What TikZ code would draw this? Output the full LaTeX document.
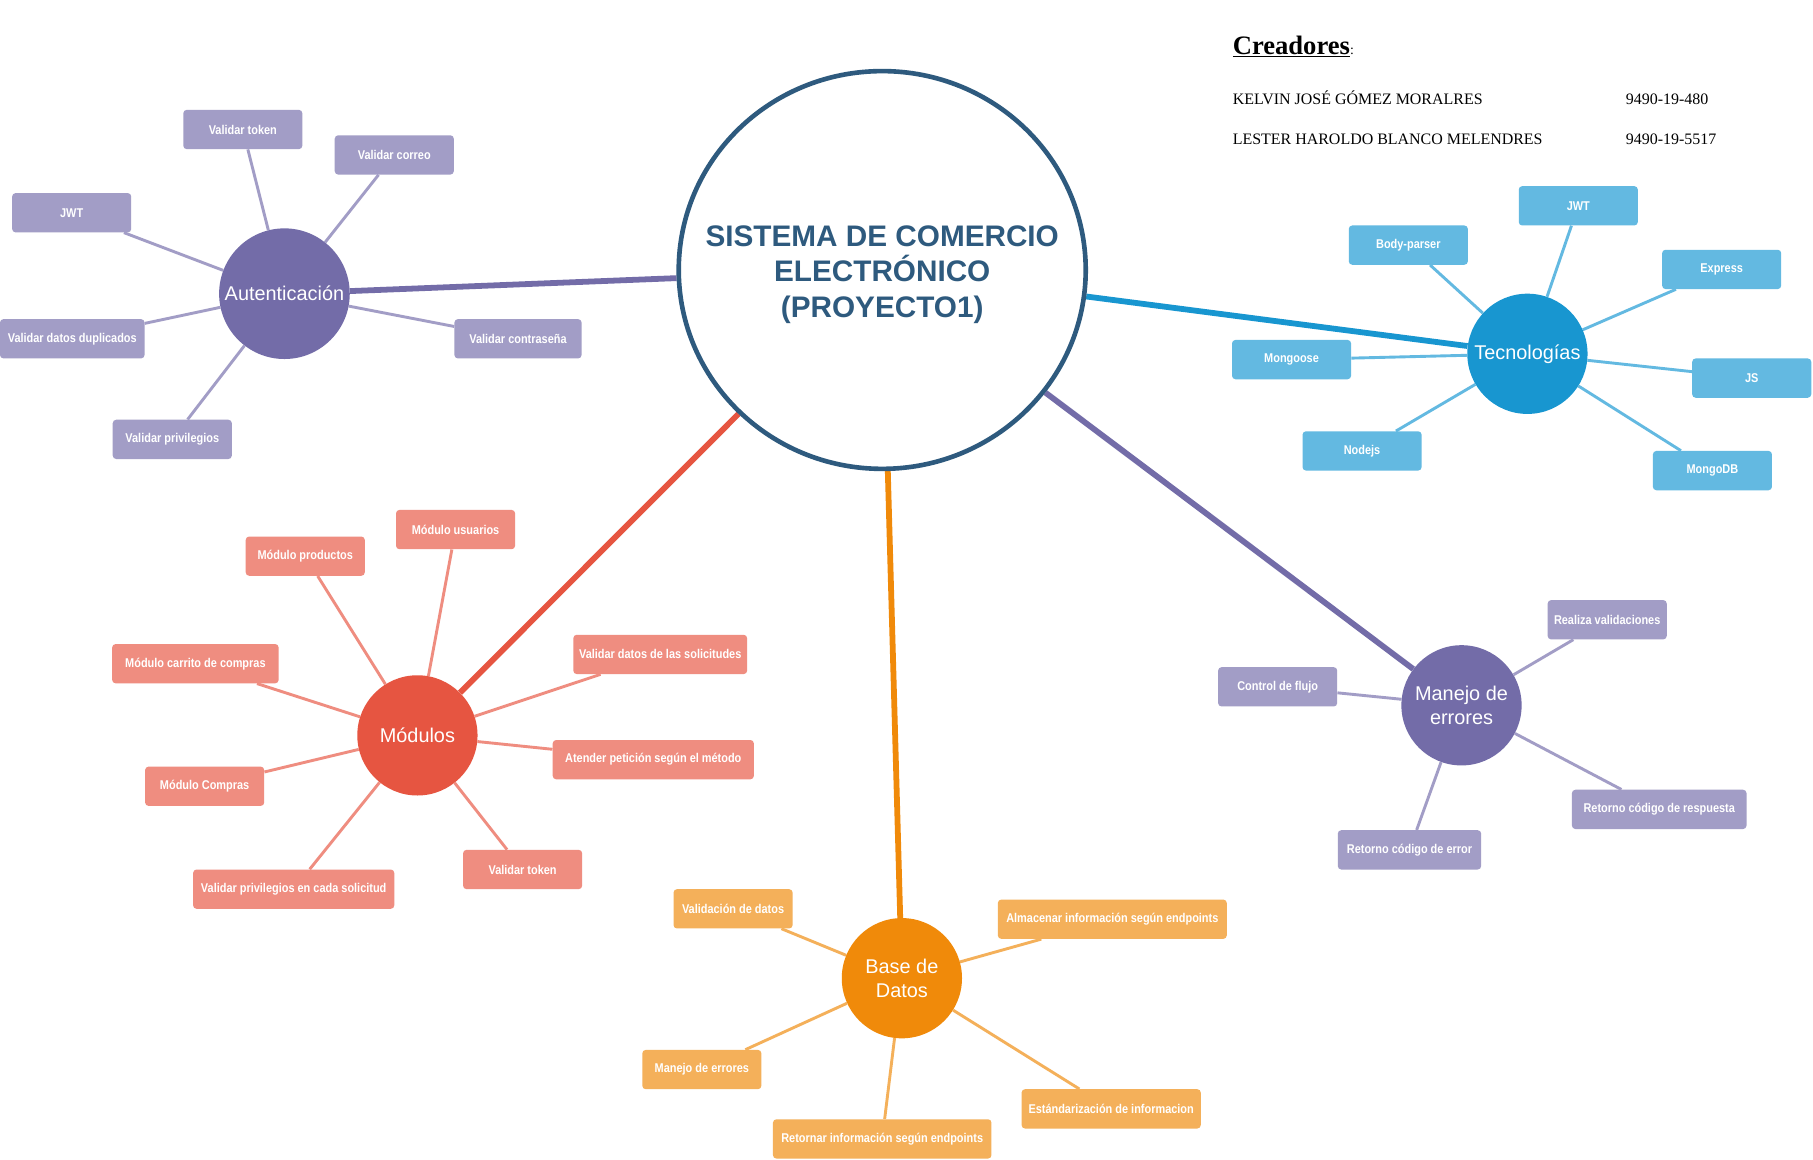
\documentclass[tikz,border=0pt]{standalone}
\usepackage{fontspec}
\setmainfont{Liberation Serif}
\setsansfont{Liberation Sans}
\newfontfamily\cajafont{Liberation Sans}[FakeStretch=0.86]
\usepackage{xcolor}
\usepackage{tikz}
\usetikzlibrary{backgrounds,shapes.geometric}

\definecolor{centrocol}{HTML}{2E5A7E}
\definecolor{lila}{HTML}{736CA8}
\definecolor{lilaclaro}{HTML}{A29DC6}
\definecolor{azul}{HTML}{1896D0}
\definecolor{azulclaro}{HTML}{63B9E1}
\definecolor{rojo}{HTML}{E65541}
\definecolor{rojoclaro}{HTML}{EF8D80}
\definecolor{naranja}{HTML}{F08A0A}
\definecolor{naranjaclaro}{HTML}{F4B05A}

\begin{document}
\begin{tikzpicture}[
  x=1pt, y=-1pt,
  hub/.style={circle, minimum size=104pt, inner sep=0pt, text=white, align=center,
    font=\sffamily\fontsize{17.2}{21}\selectfont},
  hoja/.style={rounded corners=3pt, minimum width=103pt, minimum height=34pt,
    inner xsep=5pt, text=white, font=\cajafont\bfseries\fontsize{11}{13}\selectfont},
  rama/.style={line width=5pt},
  ramita/.style={line width=2.5pt},
  dato/.style={anchor=base west, font=\fontsize{13.8}{16}\selectfont}
]
  \useasboundingbox (0,0) rectangle (1568,1003);

  % centro
  \node[ellipse, draw=centrocol, line width=4pt, minimum width=352pt, minimum height=344pt]
    (centro) at (763,233.5) {};
  \node[align=center, text=centrocol, font=\sffamily\bfseries\fontsize{25.7}{31}\selectfont]
    (titulo) at (763,237.5) {SISTEMA DE COMERCIO\\ELECTRÓNICO\\(PROYECTO1)};

  % Autenticacion
  \node[hub, fill=lila, minimum size=113pt] (auten) at (246,254) {Autenticación};
  \node[hoja, fill=lilaclaro] (auten1) at (210,112) {Validar token};
  \node[hoja, fill=lilaclaro] (auten2) at (341,134) {Validar correo};
  \node[hoja, fill=lilaclaro] (auten3) at (62,184) {JWT};
  \node[hoja, fill=lilaclaro, minimum width=125pt] (auten4) at (62.5,293) {Validar datos duplicados};
  \node[hoja, fill=lilaclaro, minimum width=110pt] (auten5) at (448,293) {Validar contraseña};
  \node[hoja, fill=lilaclaro] (auten6) at (149,380) {Validar privilegios};

  % Tecnologias
  \node[hub, fill=azul] (tecno) at (1321,306) {Tecnologías};
  \node[hoja, fill=azulclaro] (tecno1) at (1365,178) {JWT};
  \node[hoja, fill=azulclaro] (tecno2) at (1218,212) {Body-parser};
  \node[hoja, fill=azulclaro] (tecno3) at (1489,233) {Express};
  \node[hoja, fill=azulclaro] (tecno4) at (1117,311) {Mongoose};
  \node[hoja, fill=azulclaro] (tecno5) at (1515,327) {JS};
  \node[hoja, fill=azulclaro] (tecno6) at (1178,390) {Nodejs};
  \node[hoja, fill=azulclaro] (tecno7) at (1481,407) {MongoDB};

  % Modulos
  \node[hub, fill=rojo] (modul) at (361,636) {Módulos};
  \node[hoja, fill=rojoclaro] (modul1) at (394,458) {Módulo usuarios};
  \node[hoja, fill=rojoclaro] (modul2) at (264,481) {Módulo productos};
  \node[hoja, fill=rojoclaro, minimum width=144pt] (modul3) at (169,574) {Módulo carrito de compras};
  \node[hoja, fill=rojoclaro, minimum width=149pt] (modul4) at (571,566) {Validar datos de las solicitudes};
  \node[hoja, fill=rojoclaro, minimum width=174pt] (modul5) at (565,657) {Atender petición según el método};
  \node[hoja, fill=rojoclaro] (modul6) at (177,680) {Módulo Compras};
  \node[hoja, fill=rojoclaro, minimum width=174pt] (modul7) at (254,769) {Validar privilegios en cada solicitud};
  \node[hoja, fill=rojoclaro] (modul8) at (452,752) {Validar token};

  % Base de datos
  \node[hub, fill=naranja] (based) at (780,846) {Base de\\Datos};
  \node[hoja, fill=naranjaclaro] (based1) at (634,786) {Validación de datos};
  \node[hoja, fill=naranjaclaro, minimum width=198pt] (based2) at (962,795) {Almacenar información según endpoints};
  \node[hoja, fill=naranjaclaro] (based3) at (607,925) {Manejo de errores};
  \node[hoja, fill=naranjaclaro, minimum width=155pt] (based4) at (961,959) {Estándarización de informacion};
  \node[hoja, fill=naranjaclaro, minimum width=189pt] (based5) at (763,985) {Retornar información según endpoints};

  % Manejo de errores
  \node[hub, fill=lila] (manej) at (1264,610) {Manejo de\\errores};
  \node[hoja, fill=lilaclaro] (manej1) at (1390,536) {Realiza validaciones};
  \node[hoja, fill=lilaclaro] (manej2) at (1105,594) {Control de flujo};
  \node[hoja, fill=lilaclaro, minimum width=151pt] (manej3) at (1435,700) {Retorno código de respuesta};
  \node[hoja, fill=lilaclaro, minimum width=124pt] (manej4) at (1219,735) {Retorno código de error};

  % creadores
  \node[dato, inner sep=0pt] (creado) at (1066,47)
    {\fontsize{23}{26}\selectfont\bfseries\underline{Creadores}\fontsize{12}{14}\mdseries:};
  \node[dato, inner sep=0pt] (nombre1) at (1066,90) {KELVIN JOSÉ GÓMEZ MORALRES};
  \node[dato, inner sep=0pt] (carne1) at (1406,90) {9490-19-480};
  \node[dato, inner sep=0pt] (nombre2) at (1066,125) {LESTER HAROLDO BLANCO MELENDRES};
  \node[dato, inner sep=0pt] (carne2) at (1406,125) {9490-19-5517};

  \begin{scope}[on background layer]
    \fill[white] (0,0) rectangle (1568,1003);
    \foreach \h/\c in {auten/lila, tecno/azul, modul/rojo, based/naranja, manej/lila}
      \draw[rama, \c] (centro) -- (\h);
    \foreach \h/\c/\n in {auten/lilaclaro/6, tecno/azulclaro/7, modul/rojoclaro/8,
        based/naranjaclaro/5, manej/lilaclaro/4}
      \foreach \i in {1,...,\n}
        \draw[ramita, \c] (\h) -- (\h\i);
  \end{scope}
\end{tikzpicture}
\end{document}
